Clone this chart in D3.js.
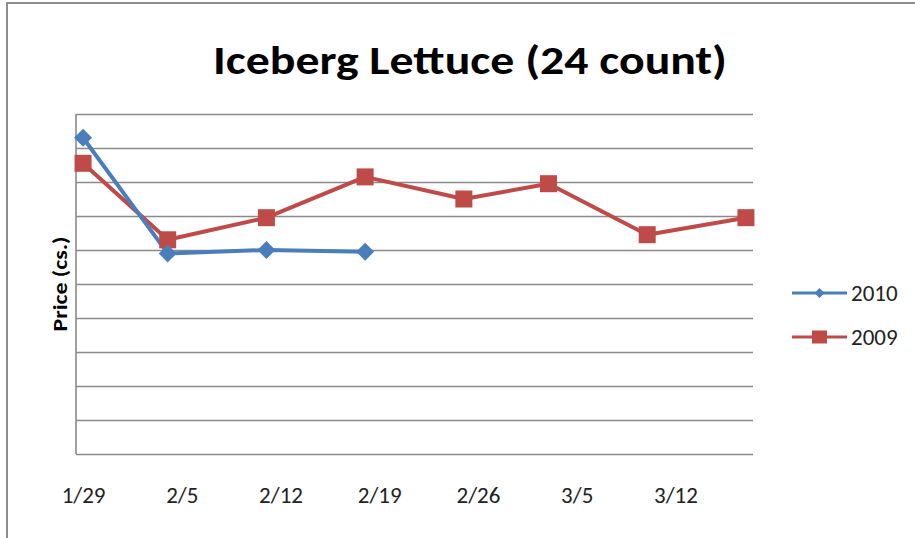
<!DOCTYPE html>
<html>
<head>
<meta charset="utf-8">
<script src="https://cdn.jsdelivr.net/npm/d3@7"></script>
<style>
  body { margin: 0; background: #fff; }
  svg { display: block; font-family: Carlito, Calibri, "Open Sans", sans-serif; }
</style>
</head>
<body>
<svg id="chart" width="915" height="538"></svg>
<script>
// week dates (2010) used by both series, and the labelled ticks
var dates = ["2010-01-29", "2010-02-04", "2010-02-11", "2010-02-18",
             "2010-02-25", "2010-03-03", "2010-03-10", "2010-03-17"];
var tickDates = ["2010-01-29", "2010-02-05", "2010-02-12", "2010-02-19",
                 "2010-02-26", "2010-03-05", "2010-03-12"];
var price2010 = [9.3, 5.9, 6.0, 5.95];
var price2009 = [8.55, 6.3, 6.95, 8.15, 7.5, 7.95, 6.45, 6.95];
var seriesNames = ["2010", "2009"];
var seriesColors = ["#4a7ebb", "#be4b48"];

var parse = d3.timeParse("%Y-%m-%d");
var svg = d3.select("#chart");

var margin = {top: 114, right: 162, bottom: 84, left: 76},
    width = 915 - margin.left - margin.right,
    height = 538 - margin.top - margin.bottom;

// outer chart border (only left and top visible)
svg.append("path")
  .attr("d", "M7,538V3H915")
  .attr("fill", "none")
  .attr("stroke", "#8e8e8e")
  .attr("stroke-width", 2);

svg.append("text")
  .attr("x", 470)
  .attr("y", 74)
  .attr("text-anchor", "middle")
  .attr("font-size", 41)
  .attr("font-weight", 600)
  .attr("textLength", 514)
  .attr("lengthAdjust", "spacingAndGlyphs")
  .text("Iceberg Lettuce (24 count)");

var x = d3.scaleTime()
  .domain([d3.timeHour.offset(parse("2010-01-28"), 12), d3.timeHour.offset(parse("2010-03-17"), 12)])
  .range([0, width]);
var y = d3.scaleLinear()
  .domain([0, 10])
  .range([height, 0]);

var g = svg.append("g").attr("transform", "translate(" + margin.left + "," + margin.top + ")");

// gridlines
g.append("g")
  .call(d3.axisLeft(y).ticks(10).tickSize(-width).tickFormat(""))
  .call(function(a) {
    a.select(".domain").remove();
    a.selectAll(".tick line").attr("stroke", "#8a8a8a").attr("stroke-width", 1.6);
  });

// left axis line
g.append("line")
  .attr("x1", 0).attr("x2", 0)
  .attr("y1", 0).attr("y2", height)
  .attr("stroke", "#8a8a8a")
  .attr("stroke-width", 1.6);

// x labels
g.append("g")
  .attr("transform", "translate(0," + height + ")")
  .call(d3.axisBottom(x)
    .tickValues(tickDates.map(parse))
    .tickSize(0)
    .tickPadding(33)
    .tickFormat(d3.timeFormat("%-m/%-d")))
  .call(function(a) {
    a.select(".domain").remove();
    a.selectAll("text")
      .attr("font-family", "Carlito, Calibri, 'Open Sans', sans-serif")
      .attr("font-size", 23)
      .attr("fill", "#222");
  });

svg.append("text")
  .attr("transform", "translate(60," + (margin.top + height / 2) + ") rotate(-90)")
  .attr("text-anchor", "middle")
  .attr("dominant-baseline", "central")
  .attr("font-size", 20)
  .attr("font-weight", "bold")
  .attr("textLength", 95)
  .attr("lengthAdjust", "spacingAndGlyphs")
  .text("Price (cs.)");

var line = d3.line()
  .x(function(d) { return x(d.date); })
  .y(function(d) { return y(d.value); });

var series = [price2009, price2010].map(function(vals, i) {
  return vals.map(function(v, j) { return {date: parse(dates[j]), value: v}; });
});
var s2009 = series[0], s2010 = series[1];

// 2009 first, then 2010 on top
g.append("path").datum(s2009)
  .attr("fill", "none").attr("stroke", seriesColors[1])
  .attr("stroke-width", 4).attr("stroke-linejoin", "round")
  .attr("d", line);
g.append("path").datum(s2010)
  .attr("fill", "none").attr("stroke", seriesColors[0])
  .attr("stroke-width", 4).attr("stroke-linejoin", "round")
  .attr("d", line);

g.selectAll(".sq").data(s2009).enter().append("rect")
  .attr("x", function(d) { return x(d.date) - 8.5; })
  .attr("y", function(d) { return y(d.value) - 8.5; })
  .attr("width", 17).attr("height", 17)
  .attr("fill", seriesColors[1]);

g.selectAll(".dm").data(s2010).enter().append("path")
  .attr("transform", function(d) { return "translate(" + x(d.date) + "," + y(d.value) + ")"; })
  .attr("d", "M0,-9L9,0L0,9L-9,0Z")
  .attr("fill", seriesColors[0]);

// legend
var legend = svg.append("g");
var legendY = [293, 337];
seriesNames.forEach(function(name, i) {
  var lg = legend.append("g").attr("transform", "translate(792," + legendY[i] + ")");
  lg.append("line").attr("x1", 0).attr("x2", 55)
    .attr("stroke", seriesColors[i]).attr("stroke-width", 3);
  if (i === 0) {
    lg.append("path").attr("d", "M27.5,-5L32.5,0L27.5,5L22.5,0Z").attr("fill", seriesColors[i]);
  } else {
    lg.append("rect").attr("x", 20).attr("y", -6.5).attr("width", 15).attr("height", 13).attr("fill", seriesColors[i]);
  }
  lg.append("text").attr("x", 59).attr("dy", "0.35em")
    .attr("font-size", 23).attr("fill", "#222").text(name);
});
</script>
</body>
</html>
